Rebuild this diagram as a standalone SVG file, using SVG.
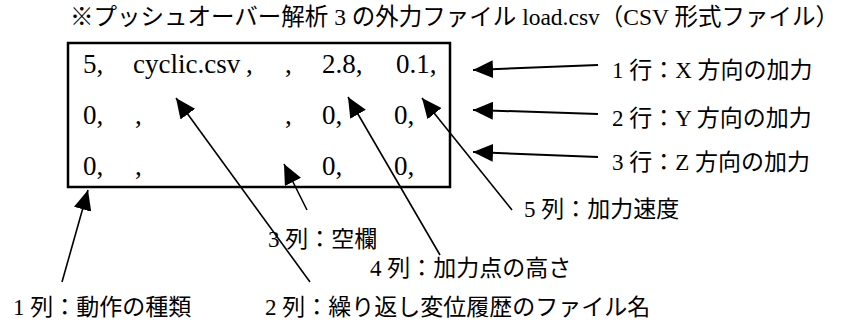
<svg xmlns="http://www.w3.org/2000/svg" width="845" height="325" viewBox="0 0 845 325">
<defs>
<marker id="ah" markerUnits="userSpaceOnUse" markerWidth="22" markerHeight="18" refX="20" refY="9" orient="auto">
<path d="M0,0 L20,9 L0,18 Z" fill="#000"/>
</marker>
<style>
.t{font-family:"Liberation Serif","Noto Sans CJK JP",serif;fill:#000}
.row{font-size:27px}
.lab{font-size:23px}
.ln{stroke:#000;stroke-width:1.6;fill:none;marker-end:url(#ah)}
.ln2{stroke:#000;stroke-width:2;fill:none;marker-end:url(#ah)}
</style>
</defs>
<rect width="845" height="325" fill="#fff"/>
<g id="title"><text class="t" x="70" y="25" font-size="23.5">※プッシュオーバー解析 3 の外力ファイル load.csv（CSV 形式ファイル）</text></g>
<g id="csvbox">
<rect x="68" y="43" width="382" height="144" fill="none" stroke="#000" stroke-width="2.5"/>
<g class="t row">
<text x="83" y="73">5,</text><text x="133" y="73">cyclic.csv</text><text x="246" y="73">,</text><text x="285" y="73">,</text><text x="322" y="73">2.8,</text><text x="396" y="73">0.1,</text>
<text x="83" y="124">0,</text><text x="135" y="124">,</text><text x="285" y="124">,</text><text x="322" y="124">0,</text><text x="394" y="124">0,</text>
<text x="83" y="175">0,</text><text x="135" y="175">,</text><text x="322" y="175">0,</text><text x="394" y="175">0,</text>
</g>
</g>
<g id="labels" class="t lab">
<text x="612" y="78">1 行：X 方向の加力</text>
<text x="612" y="126">2 行：Y 方向の加力</text>
<text x="612" y="170">3 行：Z 方向の加力</text>
<text x="524" y="217">5 列：加力速度</text>
<text x="268" y="247">3 列：空欄</text>
<text x="370" y="276">4 列：加力点の高さ</text>
<text x="13" y="315">1 列：動作の種類</text>
<text x="265" y="315">2 列：繰り返し変位履歴のファイル名</text>
</g>
<g id="connectors">
<line class="ln2" x1="598" y1="65" x2="473" y2="70"/>
<line class="ln2" x1="598" y1="114" x2="473" y2="110"/>
<line class="ln2" x1="598" y1="157" x2="473" y2="152"/>
<line class="ln" x1="512" y1="210" x2="422" y2="98"/>
<line class="ln" x1="440" y1="255" x2="348" y2="97"/>
<line class="ln" x1="307" y1="210" x2="284" y2="164"/>
<line class="ln" x1="310" y1="282" x2="176" y2="98"/>
<line class="ln" x1="62" y1="282" x2="88" y2="190"/>
</g>
</svg>
